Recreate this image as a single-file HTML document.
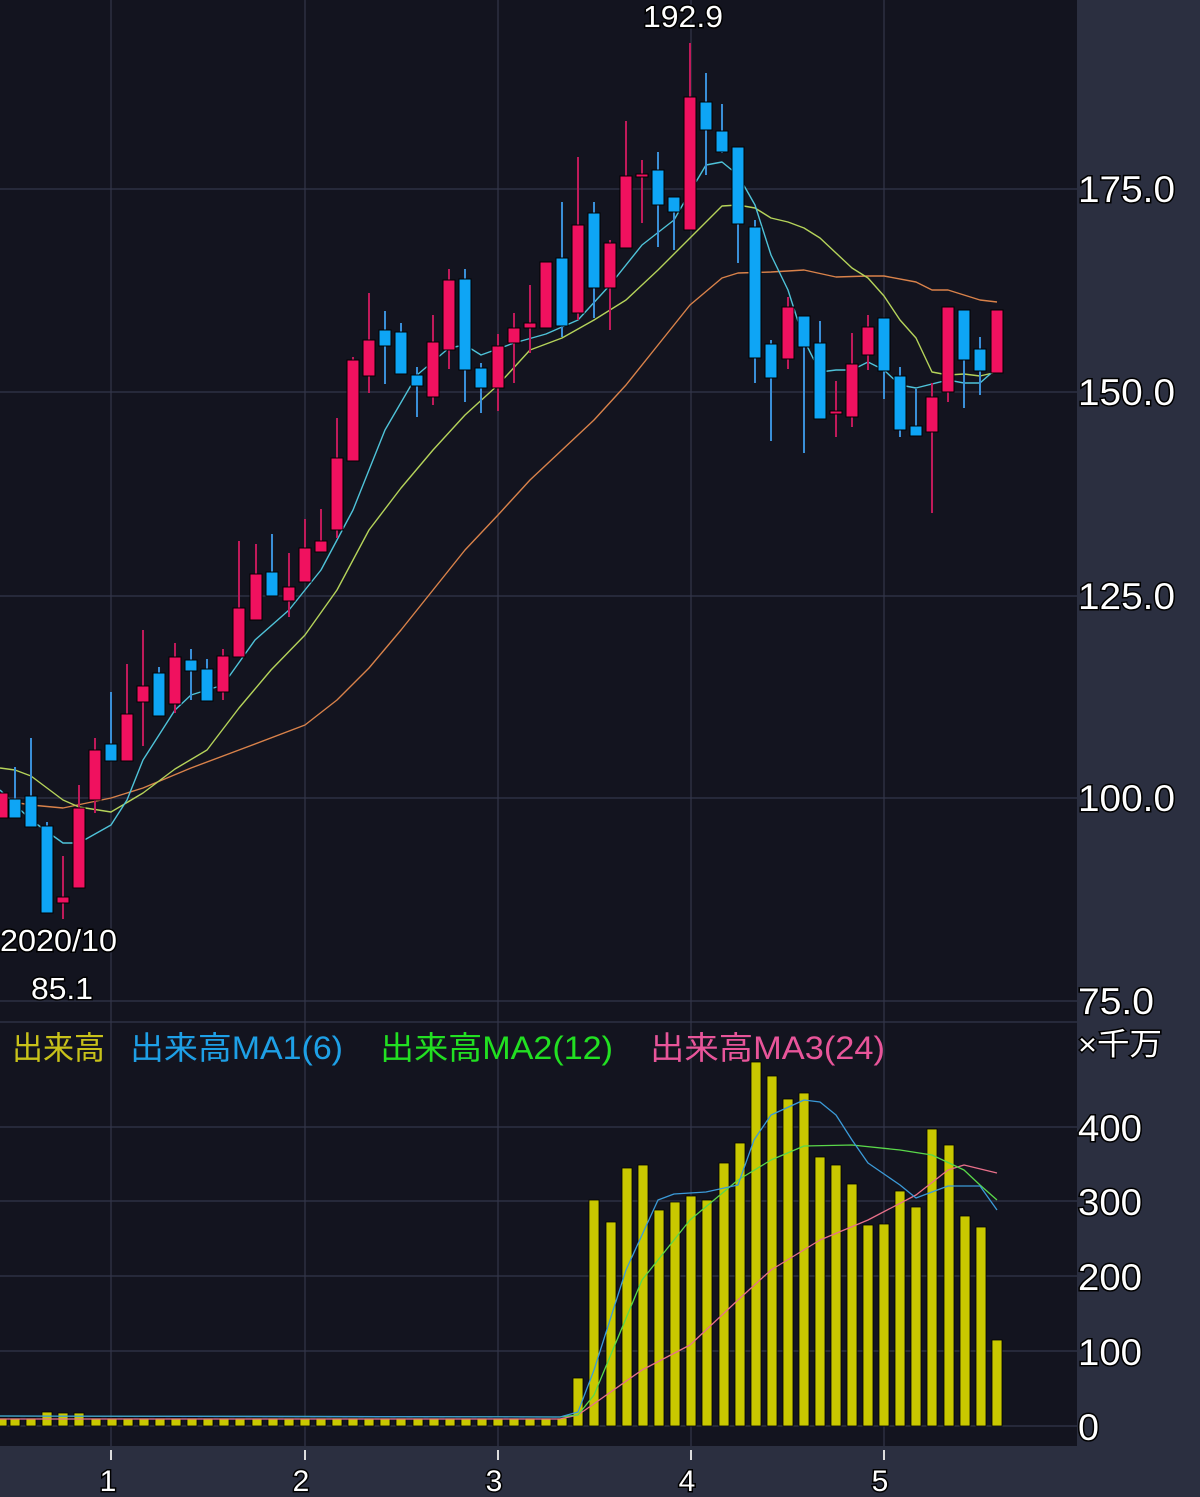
<!DOCTYPE html>
<html><head><meta charset="utf-8">
<style>
html,body{margin:0;padding:0;background:#2b2f40;}
svg{display:block;}
text{font-family:"Liberation Sans","Noto Sans CJK JP",sans-serif;}
.lb{fill:#fff;stroke:#000;stroke-width:3;paint-order:stroke;}
</style></head>
<body>
<svg id="s" width="1200" height="1497" xmlns="http://www.w3.org/2000/svg">
<rect x="0" y="0" width="1200" height="1497" fill="#2b2f40"/>
<rect x="0" y="0" width="1077" height="1446" fill="#13141f"/>
<g id="grid" stroke="#33364a" stroke-width="1.2"></g>
<g id="ma"></g>
<g id="c"></g>
<g id="v"></g>
<g id="vma"></g>
<g id="t"></g>
</svg>
<script>
var NS="http://www.w3.org/2000/svg";
function el(p,n,a,txt){var e=document.createElementNS(NS,n);for(var k in a)e.setAttribute(k,a[k]);if(txt!==undefined)e.textContent=txt;document.getElementById(p).appendChild(e);return e;}
[189,392,596,798,1001,1022,1127,1201,1276,1351,1426].forEach(function(y){el("grid","line",{x1:0,x2:1077,y1:y,y2:y});});
[111,305,498,691,884].forEach(function(x){el("grid","line",{x1:x,x2:x,y1:0,y2:1446});el("grid","line",{x1:x,x2:x,y1:1450,y2:1460,stroke:"#ddd","stroke-width":2});});
var C=[[2,793,818,793,818,'r'],[15,799,818,767,818,'b'],[31,796,827,738,827,'b'],[47,826,913,822,913,'b'],[63,897,903,856,919,'r'],[79,808,888,785,888,'r'],
[95,750,800,738,813,'r'],[111,744,761,692,761,'b'],[127,714,761,664,761,'r'],[143,686,702,630,746,'r'],[159,673,716,667,716,'b'],[175,657,704,643,713,'r'],
[191,660,671,649,700,'b'],[207,669,701,659,701,'b'],[223,656,692,649,700,'r'],[239,608,657,541,657,'r'],[256,574,620,544,620,'r'],[272,572,596,534,596,'b'],
[289,587,601,553,617,'r'],[305,548,582,519,582,'r'],[321,541,552,509,552,'r'],[337,458,530,418,538,'r'],[353,360,461,357,461,'r'],[369,340,376,293,393,'r'],
[385,330,346,311,384,'b'],[401,332,374,323,374,'b'],[417,375,386,367,417,'b'],[433,342,397,315,405,'r'],[449,280,350,269,369,'r'],[465,279,370,269,402,'b'],
[481,368,388,363,413,'b'],[498,346,388,334,411,'r'],[514,328,343,313,383,'r'],[530,323,328,285,353,'r'],[546,262,328,262,328,'r'],[562,258,326,202,337,'b'],
[578,225,313,157,320,'r'],[594,213,288,202,318,'b'],[610,243,288,240,330,'r'],[626,176,248,121,248,'r'],[642,174,177,160,223,'r'],[658,170,205,152,247,'b'],
[674,197,212,197,250,'b'],[690,97,230,43,230,'r'],[706,102,130,73,175,'b'],[722,131,152,104,153,'b'],[738,147,224,147,263,'b'],[755,227,358,220,383,'b'],
[771,344,378,340,441,'b'],[788,307,359,297,369,'r'],[804,316,347,316,453,'b'],[820,343,419,321,419,'b'],[836,411,414,381,437,'r'],[852,364,417,333,427,'r'],
[868,327,355,315,370,'r'],[884,318,371,318,399,'b'],[900,376,430,367,437,'b'],[916,426,436,389,436,'b'],[932,397,432,383,513,'r'],[948,307,392,307,402,'r'],
[964,310,360,310,408,'b'],[980,349,371,337,395,'b'],[997,310,373,310,373,'r']];
C.forEach(function(c){var col=c[5]=='r'?'#f0115f':'#0ea5f5';var wc=c[5]=='r'?'#c01a5a':'#3a8fd8';
el("c","line",{x1:c[0],x2:c[0],y1:c[3],y2:c[4],stroke:wc,"stroke-width":2});
el("c","rect",{x:c[0]-6,y:c[1],width:12,height:Math.max(3,c[2]-c[1]),fill:col,stroke:"#000","stroke-width":1});});
function pl(g,pts,col,w){el(g,"polyline",{points:pts.map(function(p){return p.join(",")}).join(" "),fill:"none",stroke:col,"stroke-width":w||1.4,"stroke-linejoin":"round"});}
pl("ma",[[0,800],[31,805],[63,808],[111,798],[143,788],[191,768],[239,750],[305,725],[337,700],[369,668],[401,630],[433,590],[465,550],[498,515],[530,480],[562,450],[594,420],[626,385],[658,345],[690,305],[722,278],[738,273],[771,272],[788,271],[804,270],[836,277],[868,276],[884,276],[916,282],[932,290],[948,290],[964,295],[980,300],[997,302]],"#d9824a");
pl("ma",[[0,768],[15,770],[31,776],[63,800],[79,807],[111,812],[143,793],[175,769],[207,750],[239,708],[271,670],[305,635],[337,590],[369,530],[401,488],[433,450],[465,415],[498,385],[530,350],[562,338],[594,320],[626,300],[658,270],[690,238],[722,206],[738,205],[755,208],[771,218],[788,222],[804,228],[820,238],[852,268],[868,278],[884,296],[900,320],[916,338],[932,372],[948,375],[964,374],[980,376],[997,372]],"#b5d35a");
pl("ma",[[0,790],[31,820],[63,843],[79,843],[111,825],[127,800],[143,760],[175,710],[191,695],[223,685],[255,640],[289,610],[321,570],[353,510],[385,430],[417,375],[449,348],[465,345],[481,355],[514,343],[546,334],[578,320],[610,285],[642,245],[674,220],[690,192],[706,165],[722,162],[738,175],[755,205],[771,255],[788,290],[804,340],[820,372],[836,370],[852,370],[868,362],[884,370],[900,385],[916,388],[948,380],[964,383],[980,383],[997,368]],"#4fc3d9");
var V={2:1418,47:1412,63:1413,79:1413,111:1412,578:1378,594:1200,611:1222,627:1168,643:1165,659:1210,675:1202,691:1196,707:1200,724:1163,740:1143,756:1062,772:1076,788:1099,804:1093,820:1157,836:1165,852:1184,868:1225,884:1224,900:1191,916:1207,932:1129,949:1145,965:1216,981:1227,997:1340};
var xs=[2];for(var i=1;i<=35;i++)xs.push(Math.round(15+i*16.1-16.1));
xs=xs.concat([578,594,611,627,643,659,675,691,707,724,740,756,772,788,804,820,836,852,868,884,900,916,932,949,965,981,997]);
var seen={};xs.forEach(function(x){if(seen[x])return;seen[x]=1;var t=V[x]||1418;el("v","rect",{x:x-5,y:t,width:10,height:1426-t,fill:"#c9c800",stroke:"#000","stroke-width":0.8});});
pl("vma",[[0,1419],[560,1419],[578,1415],[642,1370],[690,1345],[738,1300],[771,1270],[820,1240],[868,1220],[916,1195],[948,1170],[964,1165],[997,1173]],"#e8708a",1.3);
pl("vma",[[0,1416],[560,1417],[578,1415],[594,1395],[642,1280],[690,1220],[738,1180],[771,1160],[804,1146],[852,1145],[900,1150],[932,1155],[964,1170],[980,1185],[997,1200]],"#5ad84a",1.3);
pl("vma",[[0,1416],[560,1417],[578,1412],[594,1370],[626,1270],[658,1200],[674,1194],[706,1192],[738,1185],[754,1140],[771,1115],[804,1100],[820,1102],[836,1115],[852,1140],[868,1163],[900,1185],[916,1198],[948,1186],[980,1186],[997,1210]],"#3b9ad8",1.3);
function tx(x,y,s,sz,anchor,cls,fill,len){var a={x:x,y:y,"font-size":sz,"text-anchor":anchor||"start"};if(cls)a["class"]=cls;if(fill)a.fill=fill;if(len){a.textLength=len;a.lengthAdjust="spacingAndGlyphs";}el("t","text",a,s);}
tx(683,27,"192.9",31,"middle","lb",null,80);
tx(0,951,"2020/10",31,"start","lb",null,117);
tx(62,999,"85.1",31,"middle","lb",null,62);
[["175.0",202],["150.0",405],["125.0",609],["100.0",811],["75.0",1014]].forEach(function(a){tx(1078,a[1],a[0],37,"start","lb",null,a[0].length==5?97:76);});
tx(1078,1055,"×千万",31,"start","lb",null,84);
[["400",1141],["300",1215],["200",1290],["100",1365],["0",1440]].forEach(function(a){tx(1078,a[1],a[0],37,"start","lb",null,a[0].length==3?64:21);});
[["1",108],["2",301],["3",494],["4",687],["5",880]].forEach(function(a){tx(a[1],1491,a[0],30,"middle","lb");});
tx(12,1059,"出来高",32,"start",null,"#c8c21a",93);
tx(130,1059,"出来高MA1(6)",32,"start",null,"#1ea0e6",213);
tx(380,1059,"出来高MA2(12)",32,"start",null,"#22e022",233);
tx(650,1059,"出来高MA3(24)",32,"start",null,"#e8559a",235);
</script>
</body></html>
